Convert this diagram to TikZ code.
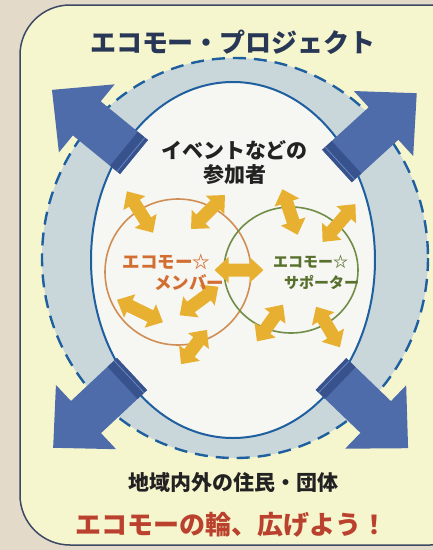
\documentclass[tikz,border=0pt]{standalone}
\usepackage{fontspec}
\newfontfamily\jp{Noto Sans CJK JP}
\definecolor{bgbeige}{RGB}{228,218,202}
\definecolor{yellowbg}{RGB}{246,246,206}
\definecolor{framecol}{RGB}{60,72,100}
\definecolor{bandcol}{RGB}{202,215,218}
\definecolor{innercol}{RGB}{246,246,242}
\definecolor{ringblue}{RGB}{30,95,160}
\definecolor{bluemain}{RGB}{78,108,170}
\definecolor{bluedark}{RGB}{56,82,142}
\definecolor{bluehl}{RGB}{105,135,190}
\definecolor{yarr}{RGB}{232,176,48}
\definecolor{orangeline}{RGB}{208,142,84}
\definecolor{greenline}{RGB}{112,142,72}
\definecolor{orangetext}{RGB}{210,110,50}
\definecolor{greentext}{RGB}{88,112,46}
\definecolor{titlecol}{RGB}{40,55,85}
\definecolor{darktext}{RGB}{34,34,34}
\definecolor{redtext}{RGB}{185,65,45}
\newcommand\bluearrow[4]{%
  \begin{scope}[shift={(#1,#2)},rotate=#3]
    \pgfmathsetmacro\bl{#4}\pgfmathsetmacro\bh{#4-45}
    \fill[bluemain] (0,-22) -- (\bh,-22) -- (\bh,-44) -- (\bl,0) -- (\bh,44) -- (\bh,22) -- (0,22) -- cycle;
    \fill[bluedark] (0,-22) rectangle (13,22);
    \draw[bluehl, line width=0.8] (4,-22) -- (4,22);
  \end{scope}}
\newcommand\yarrow[4]{%
  \begin{scope}[shift={(#1,#2)},rotate=#3]
    \pgfmathsetmacro\ya{#4}\pgfmathsetmacro\yb{#4-14}
    \fill[yarr] (-\ya,0) -- (-\yb,-13) -- (-\yb,-6.5) -- (\yb,-6.5) -- (\yb,-13) -- (\ya,0)
      -- (\yb,13) -- (\yb,6.5) -- (-\yb,6.5) -- (-\yb,13) -- cycle;
  \end{scope}}
\tikzset{
  lbl/.style={inner sep=0pt, font=\jp\bfseries},
}
\begin{document}
\begin{tikzpicture}[x=1pt,y=-1pt]
\useasboundingbox (0,0) rectangle (433,550);
\clip (0,0) rectangle (433,550);
\fill[bgbeige] (0,0) rectangle (433,550);
\draw[framecol, line width=1.5, fill=yellowbg, rounded corners=50] (20,5) rectangle (480,545);
% rings
\fill[bandcol] (235,258) ellipse [x radius=193, y radius=200];
\draw[ringblue, line width=2.4, dash pattern=on 13pt off 8pt] (235,258) ellipse [x radius=193, y radius=200];
\draw[ringblue, line width=2, fill=innercol] (233,260) ellipse [x radius=142, y radius=178];
% blue arrows
\bluearrow{134}{157}{140.7}{106}
\bluearrow{337}{166}{42.4}{108}
\bluearrow{132}{374}{223.1}{108}
\bluearrow{331}{374}{-43.9}{107}
% circles
\draw[orangeline, line width=1.6] (178,272) circle [radius=73];
\draw[greenline, line width=1.6] (291,270) ellipse [x radius=67, y radius=63];
% yellow arrows
\yarrow{140}{212}{-57.6}{24.5}
\yarrow{208}{212}{45}{24}
\yarrow{239}{270}{0}{24.5}
\yarrow{140}{311}{-26}{25.5}
\yarrow{199}{301}{36.4}{24}
\yarrow{194}{347}{52.9}{21.5}
\yarrow{290}{212}{-71.6}{24}
\yarrow{339}{223}{49}{25}
\yarrow{270}{323}{54.5}{22.5}
\yarrow{328}{327}{-59.5}{23.5}
% texts
\node[lbl, text=titlecol, font=\jp\bfseries\fontsize{26}{26}\selectfont] (title) at (233,42) {エコモー・プロジェクト};
\node[lbl, text=darktext, font=\jp\bfseries\fontsize{21}{21}\selectfont] (ev1) at (234.5,150) {イベントなどの};
\node[lbl, text=darktext, font=\jp\bfseries\fontsize{21}{21}\selectfont] (ev2) at (234.5,175) {参加者};
\node[lbl, text=orangetext, font=\jp\bfseries\fontsize{17.5}{17.5}\selectfont] (m1) at (166.5,262) {エコモー☆};
\node[lbl, text=orangetext, font=\jp\bfseries\fontsize{17.5}{17.5}\selectfont] (m2) at (189,283) {メンバー};
\node[lbl, text=greentext, font=\jp\bfseries\fontsize{15}{15}\selectfont] (s1) at (310.5,262) {エコモー☆};
\node[lbl, text=greentext, font=\jp\bfseries\fontsize{15}{15}\selectfont] (s2) at (321.5,283) {サポーター};
\node[lbl, text=darktext, font=\jp\bfseries\fontsize{21}{21}\selectfont] (res) at (233.5,483) {地域内外の住民・団体};
\node[lbl, text=redtext, font=\jp\bfseries\fontsize{26}{26}\selectfont] (slogan) at (231.5,525) {エコモーの輪、広げよう！};
\end{tikzpicture}
\end{document}
